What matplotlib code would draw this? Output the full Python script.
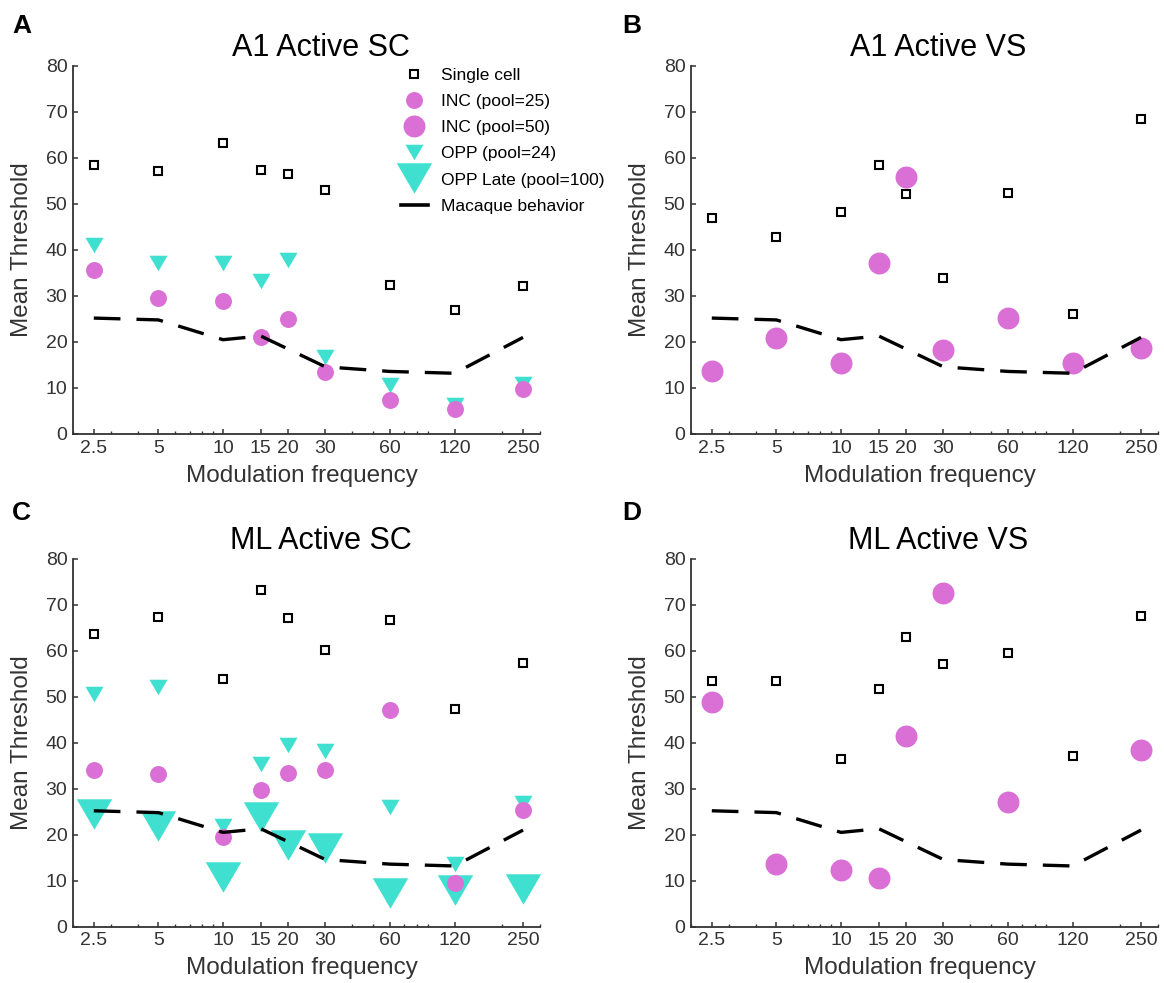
import matplotlib
matplotlib.use("Agg")
import numpy as np
import matplotlib.pyplot as plt
from matplotlib.lines import Line2D
from matplotlib.ticker import FixedLocator, FixedFormatter, LogLocator, NullFormatter

plt.rcParams['font.family'] = ['Liberation Sans', 'DejaVu Sans']

# Modulation frequencies (Hz) and their tick labels
freqs = [2.5, 5, 10, 15, 20, 30, 60, 120, 250]
freq_labels = ['2.5', '5', '10', '15', '20', '30', '60', '120', '250']

# Macaque behavioural thresholds
behavior_freqs = [2.5, 5, 10, 15, 30, 60, 120, 250]
behavior_thresh = [25.2, 24.8, 20.5, 21.3, 14.6, 13.6, 13.2, 21.0]

# A1, active, spike count
a1_sc_single = [58.5, 57.1, 63.2, 57.4, 56.5, 53.1, 32.4, 27.0, 32.2]
a1_sc_inc25 = [35.6, 29.6, 29.0, 21.0, 24.9, 13.4, 7.4, 5.4, 9.7]
a1_sc_opp24 = [41.1, 37.2, 37.2, 33.3, 37.9, 16.8, 10.6, 6.3, 10.8]

# A1, active, vector strength
a1_vs_single = [46.9, 42.9, 48.3, 58.4, 52.1, 33.9, 52.4, 26.0, 68.4]
a1_vs_inc50 = [13.8, 20.9, 15.4, 37.2, 55.8, 18.2, 25.3, 15.4, 18.6]

# ML, active, spike count
ml_sc_single = [63.7, 67.3, 53.9, 73.2, 67.2, 60.2, 66.6, 47.3, 57.3]
ml_sc_inc25 = [34.1, 33.1, 19.5, 29.7, 33.4, 34.1, 47.2, 9.6, 25.4]
ml_sc_opp24 = [50.6, 52.1, 21.9, 35.3, 39.6, 38.1, 26.0, 13.7, 26.9]
ml_sc_opplate = [24.4, 21.8, 10.8, 23.8, 17.7, 17.2, 7.3, 8.0, 8.2]

# ML, active, vector strength (no pooled estimate at 120 Hz)
ml_vs_single = [53.5, 53.5, 36.5, 51.6, 63.0, 57.2, 59.6, 37.1, 67.5]
ml_vs_inc50 = [48.8, 13.7, 12.3, 10.6, 41.4, 72.5, 27.2, np.nan, 38.4]

PINK = '#DA70D6'
TEAL = '#40E0D0'
DARK = '#333333'
TRI = [(-1, 0.86), (1, 0.86), (0, -0.86)]

STYLE_SINGLE = dict(marker='s', ms=5.8, mfc='white', mec='black', mew=1.5, ls='none')
STYLE_INC25 = dict(marker='o', ms=12.2, mfc=PINK, mec='none', ls='none')
STYLE_INC50 = dict(marker='o', ms=15.8, mfc=PINK, mec='none', ls='none')
STYLE_OPP24 = dict(marker=TRI, ms=13, mfc=TEAL, mec='none', ls='none')
STYLE_OPPLATE = dict(marker=TRI, ms=25.5, mfc=TEAL, mec='none', ls='none')

W, H = 1164, 983
fig = plt.figure(figsize=(W / 100, H / 100), dpi=100)


def make_axes(left_px, bottom_px, title):
    ax = fig.add_axes([left_px / W, 1 - bottom_px / H, 467 / W, 368 / H])
    ax.set_xscale('log')
    ax.set_xlim(2, 300)
    ax.set_ylim(0, 80)
    ax.xaxis.set_major_locator(FixedLocator(freqs))
    ax.xaxis.set_major_formatter(FixedFormatter(freq_labels))
    ax.xaxis.set_minor_locator(LogLocator(base=10, subs=np.arange(2, 10)))
    ax.xaxis.set_minor_formatter(NullFormatter())
    ax.set_yticks(np.arange(0, 81, 10))
    for s in ('top', 'right'):
        ax.spines[s].set_visible(False)
    for s in ('left', 'bottom'):
        ax.spines[s].set_color(DARK)
        ax.spines[s].set_linewidth(1.3)
    ax.tick_params(which='major', direction='in', length=3.8, width=1.1,
                   color=DARK, labelsize=14, labelcolor=DARK, pad=4)
    ax.tick_params(which='minor', direction='in', length=2.2, width=1.0, color=DARK)
    ax.set_title(title, fontsize=22, x=0.53, pad=7)
    ax.set_xlabel('Modulation frequency', fontsize=17.5, color=DARK)
    ax.xaxis.set_label_coords(0.49, -0.083)
    ax.set_ylabel('Mean Threshold', fontsize=17.5, color=DARK)
    ax.yaxis.label.set_va('center')
    ax.yaxis.set_label_coords(-0.109, 0.5)
    return ax


def behavior(ax):
    ax.plot(behavior_freqs, behavior_thresh, color='black', lw=2.4,
            ls=(0, (8, 4.8)), zorder=5)


# Panel A
axA = make_axes(73, 434, 'A1 Active SC')
axA.plot(freqs, a1_sc_opp24, zorder=3, **STYLE_OPP24)
axA.plot(freqs, a1_sc_inc25, zorder=4, **STYLE_INC25)
behavior(axA)
axA.plot(freqs, a1_sc_single, zorder=6, **STYLE_SINGLE)

handles = [
    Line2D([], [], **STYLE_SINGLE),
    Line2D([], [], **STYLE_INC25),
    Line2D([], [], **STYLE_INC50),
    Line2D([], [], **STYLE_OPP24),
    Line2D([], [], **STYLE_OPPLATE),
    Line2D([], [], color='black', lw=2.6),
]
labels = ['Single cell', 'INC (pool=25)', 'INC (pool=50)', 'OPP (pool=24)',
          'OPP Late (pool=100)', 'Macaque behavior']
axA.legend(handles, labels, loc='upper left', bbox_to_anchor=(401 / W, 1 - 68 / H),
           bbox_transform=fig.transFigure, frameon=False, fontsize=12.5,
           handlelength=1.55, handletextpad=0.75, labelspacing=0.63,
           borderpad=0, borderaxespad=0)

# Panel B
axB = make_axes(691, 434, 'A1 Active VS')
axB.plot(freqs, a1_vs_inc50, zorder=4, **STYLE_INC50)
behavior(axB)
axB.plot(freqs, a1_vs_single, zorder=6, **STYLE_SINGLE)

# Panel C
axC = make_axes(73, 926.7, 'ML Active SC')
axC.plot(freqs, ml_sc_opplate, zorder=2, **STYLE_OPPLATE)
axC.plot(freqs, ml_sc_opp24, zorder=3, **STYLE_OPP24)
axC.plot(freqs, ml_sc_inc25, zorder=4, **STYLE_INC25)
behavior(axC)
axC.plot(freqs, ml_sc_single, zorder=6, **STYLE_SINGLE)

# Panel D
axD = make_axes(691, 926.7, 'ML Active VS')
axD.plot(freqs, ml_vs_inc50, zorder=4, **STYLE_INC50)
behavior(axD)
axD.plot(freqs, ml_vs_single, zorder=6, **STYLE_SINGLE)

# Panel letters
for letter, x, y in [('A', 12, 33), ('B', 622, 33), ('C', 12, 520), ('D', 622, 520)]:
    fig.text(x / W, 1 - y / H, letter, fontsize=19, fontweight='bold',
             ha='left', va='baseline')

fig.savefig('out.png', dpi=100, facecolor='white')
